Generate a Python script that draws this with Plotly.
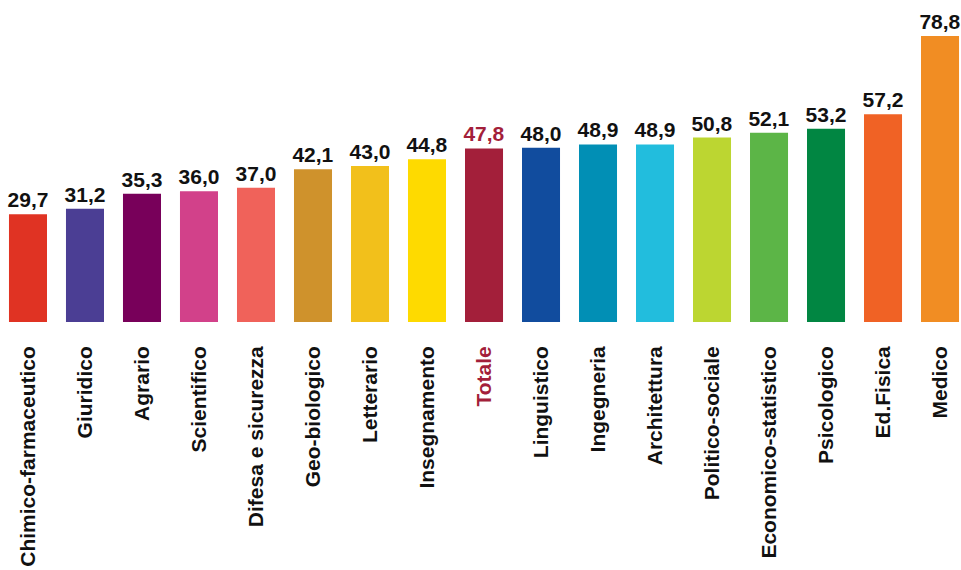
import plotly.graph_objects as go

categories = ["Chimico-farmaceutico", "Giuridico", "Agrario", "Scientifico",
              "Difesa e sicurezza", "Geo-biologico", "Letterario", "Insegnamento",
              "Totale", "Linguistico", "Ingegneria", "Architettura",
              "Politico-sociale", "Economico-statistico", "Psicologico",
              "Ed.Fisica", "Medico"]
values = [29.7, 31.2, 35.3, 36.0, 37.0, 42.1, 43.0, 44.8, 47.8, 48.0,
          48.9, 48.9, 50.8, 52.1, 53.2, 57.2, 78.8]
colors = ["#E03323", "#4B3E94", "#78005A", "#D2418A", "#F0625A", "#CF922C",
          "#F2C01B", "#FEDA00", "#A31F3A", "#114C9E", "#018FB5", "#22BDDD",
          "#BCD631", "#5CB547", "#018642", "#F06225", "#F18D23"]
highlight = "Totale"
highlight_color = "#A31F3A"
text_color = "#111111"

x_idx = list(range(len(categories)))
ticktext = [f'<span style="color:{highlight_color}">{c}</span>' if c == highlight else c
            for c in categories]
label_colors = [highlight_color if c == highlight else text_color for c in categories]

fig = go.Figure(go.Bar(
    x=x_idx, y=values,
    marker=dict(color=colors, line=dict(width=0)),
    texttemplate="%{y:.1f}",
    textposition="outside",
    constraintext="none",
    textfont=dict(size=21, color=label_colors, family="Liberation Sans, Arial",
                  weight="bold"),
    cliponaxis=False,
    hoverinfo="skip",
))

fig.update_layout(
    width=961, height=570,
    margin=dict(l=0, r=0, t=0, b=248),
    paper_bgcolor="white", plot_bgcolor="white",
    separators=",.",
    bargap=0.333,
    showlegend=False,
    font=dict(family="Liberation Sans, Arial", color=text_color),
    xaxis=dict(
        tickmode="array", tickvals=x_idx, ticktext=ticktext,
        tickangle=-90,
        tickfont=dict(size=21, color=text_color, weight="bold"),
        range=[-0.491, 16.368], showgrid=False, zeroline=False,
        showline=False, ticks="", ticklabelstandoff=19,
    ),
    yaxis=dict(range=[0, 88.7], visible=False, showgrid=False, zeroline=False),
)

fig.write_html(
    "out.html",
    config={"displayModeBar": False},
    default_width="961px", default_height="570px",
    post_script="document.body.style.margin='0';document.body.style.overflow='hidden';",
)
